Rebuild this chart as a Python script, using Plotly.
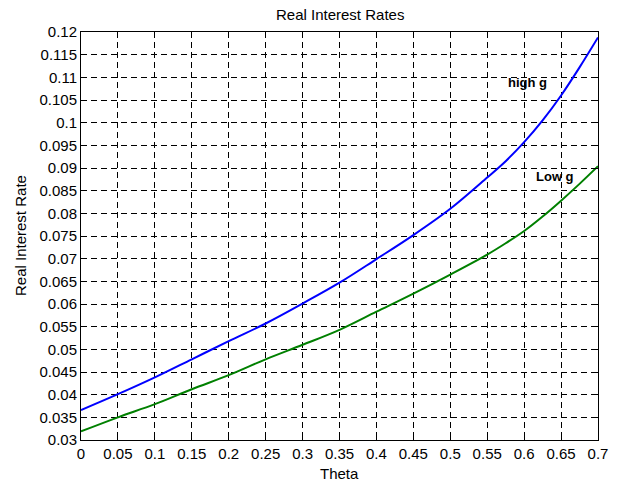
import plotly.graph_objects as go

theta = [0.0, 0.05, 0.1, 0.15, 0.2, 0.25, 0.3, 0.35, 0.4, 0.45, 0.5, 0.55, 0.575, 0.6, 0.625, 0.65, 0.675, 0.7]
high_g = [0.0366, 0.0401, 0.0438, 0.0478, 0.0518, 0.0557, 0.0601, 0.0647, 0.0699, 0.0752, 0.0810, 0.0879, 0.0915, 0.0957, 0.1005, 0.1060, 0.1122, 0.1188]
low_g = [0.0319, 0.0350, 0.0379, 0.0412, 0.0443, 0.0478, 0.0510, 0.0543, 0.0583, 0.0623, 0.0665, 0.0709, 0.0734, 0.0761, 0.0793, 0.0828, 0.0865, 0.0904]

x_ticks = [round(i * 0.05, 2) for i in range(15)]
x_labels = ["0", "0.05", "0.1", "0.15", "0.2", "0.25", "0.3", "0.35", "0.4", "0.45", "0.5", "0.55", "0.6", "0.65", "0.7"]
y_ticks = [round(0.03 + i * 0.005, 3) for i in range(19)]
y_labels = ["0.03", "0.035", "0.04", "0.045", "0.05", "0.055", "0.06", "0.065", "0.07", "0.075",
            "0.08", "0.085", "0.09", "0.095", "0.1", "0.105", "0.11", "0.115", "0.12"]

FONT = "Liberation Sans, Arial, sans-serif"
FS = 15

fig = go.Figure()
fig.add_trace(go.Scatter(x=theta, y=high_g, mode="lines", line=dict(color="#0000ff", width=2, shape="spline", smoothing=1), showlegend=False))
fig.add_trace(go.Scatter(x=theta, y=low_g, mode="lines", line=dict(color="#008000", width=2, shape="spline", smoothing=1), showlegend=False))

fig.add_annotation(x=0.604, y=0.1088, text="<b>high g</b>", showarrow=False,
                   font=dict(family=FONT, size=13, color="black"))
fig.add_annotation(x=0.642, y=0.0882, text="<b>Low g</b>", showarrow=False,
                   font=dict(family=FONT, size=13, color="black"))

# axis titles and chart title
fig.add_annotation(xref="paper", yref="paper", x=0.5, y=0, yshift=-33, text="Theta",
                   showarrow=False, yanchor="middle", font=dict(family=FONT, size=FS, color="black"))
fig.add_annotation(xref="paper", yref="paper", x=0, y=0.5, xshift=-61, text="Real Interest Rate",
                   textangle=-90, showarrow=False, xanchor="center", font=dict(family=FONT, size=FS, color="black"))
fig.add_annotation(xref="paper", yref="paper", x=0.5, y=1, yshift=18, text="Real Interest Rates",
                   showarrow=False, yanchor="middle", font=dict(family=FONT, size=FS, color="black"))

axis_common = dict(
    showline=True, linecolor="black", linewidth=1, mirror="ticks",
    ticks="inside", ticklen=5, tickcolor="black",
    showgrid=True, gridcolor="black", gridwidth=1, griddash="6px,4px",
    zeroline=False, tickfont=dict(family=FONT, size=FS, color="black"),
)

fig.update_xaxes(range=[0, 0.7], tickvals=x_ticks, ticktext=x_labels, **axis_common)
fig.update_yaxes(range=[0.03, 0.12], tickvals=y_ticks, ticktext=y_labels, **axis_common)

fig.update_layout(
    width=628, height=485,
    margin=dict(l=81, r=30, t=32, b=45, autoexpand=False),
    paper_bgcolor="white", plot_bgcolor="white",
    font=dict(family=FONT, color="black"),
)

fig.write_html("out.html", config={"displayModeBar": False},
               post_script="document.body.style.margin='0';document.body.style.overflow='hidden';")
